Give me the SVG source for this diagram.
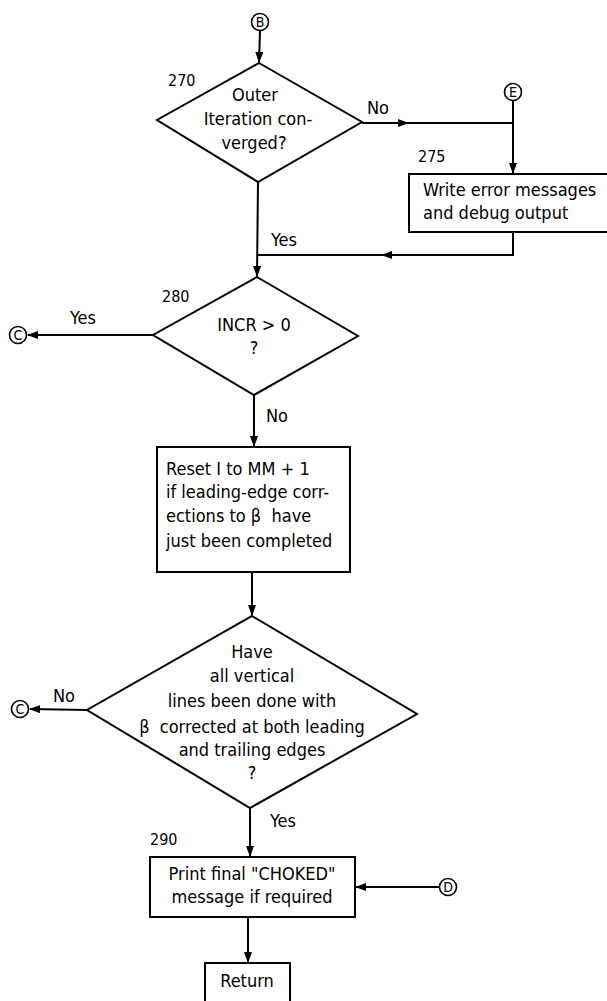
<svg xmlns="http://www.w3.org/2000/svg" width="607" height="1001" viewBox="0 0 607 1001">
<style>
.s{fill:none;stroke:#000;stroke-width:2}
.n{fill:#fff;stroke:#000;stroke-width:2}
.k{fill:#fff;stroke:#000;stroke-width:1.6}
.t{font-family:"DejaVu Sans Condensed","Liberation Sans Narrow","DejaVu Sans",sans-serif;font-stretch:condensed;font-size:18px;fill:#000}
.m{text-anchor:middle}
.l{font-family:"DejaVu Sans Condensed","Liberation Sans Narrow","DejaVu Sans",sans-serif;font-stretch:condensed;font-size:16px;fill:#000}
.c{font-family:"DejaVu Sans Condensed","DejaVu Sans",sans-serif;font-stretch:condensed;font-size:14px;text-anchor:middle;fill:#000}
</style>
<defs>
<marker id="a" markerWidth="11" markerHeight="8" refX="10" refY="4" orient="auto" markerUnits="userSpaceOnUse">
<path d="M0,0 L11,4 L0,8 z" fill="#000"/>
</marker>
</defs>
<rect width="607" height="1001" fill="#fff"/>
<g id="connectors">
<path class="s" d="M260,31 L259,62" marker-end="url(#a)"/>
<path class="s" d="M362,123 L408,123" marker-end="url(#a)"/>
<path class="s" d="M405,123 L513,123"/>
<path class="s" d="M513,101 L513,173" marker-end="url(#a)"/>
<path class="s" d="M513,232 L513,255 L382,255" marker-end="url(#a)"/>
<path class="s" d="M385,255 L258,255"/>
<path class="s" d="M258,182 L257,276" marker-end="url(#a)"/>
<path class="s" d="M153,335 L28,335" marker-end="url(#a)"/>
<path class="s" d="M254,395 L254,446" marker-end="url(#a)"/>
<path class="s" d="M252,572 L252,615" marker-end="url(#a)"/>
<path class="s" d="M87,710 L30,709" marker-end="url(#a)"/>
<path class="s" d="M250,808 L250,856" marker-end="url(#a)"/>
<path class="s" d="M439,887 L356,887" marker-end="url(#a)"/>
<path class="s" d="M248,917 L248,962" marker-end="url(#a)"/>
<text class="t" x="367" y="114">No</text>
<text class="t" x="271" y="246">Yes</text>
<text class="t" x="70" y="324">Yes</text>
<text class="t" x="266" y="422">No</text>
<text class="t" x="53" y="702">No</text>
<text class="t" x="270" y="827">Yes</text>
</g>
<g id="conB">
<circle class="k" cx="260" cy="22" r="8.5"/>
<text class="c" x="260" y="27">B</text>
</g>
<g id="conE">
<circle class="k" cx="513" cy="92" r="8.5"/>
<text class="c" x="513" y="97">E</text>
</g>
<g id="conC1">
<circle class="k" cx="18" cy="335" r="8.5"/>
<text class="c" x="18" y="340">C</text>
</g>
<g id="conC2">
<circle class="k" cx="20" cy="709" r="8.5"/>
<text class="c" x="20" y="714">C</text>
</g>
<g id="conD">
<circle class="k" cx="448" cy="887" r="8.5"/>
<text class="c" x="448" y="892">D</text>
</g>
<g id="n270">
<path class="n" d="M259,63 L362,122 L258,182 L157,120 Z"/>
<text class="l" x="168" y="86">270</text>
<text class="t m" x="255" y="101">Outer</text>
<text class="t m" x="258" y="125">Iteration con-</text>
<text class="t m" x="254" y="149">verged?</text>
</g>
<g id="n275">
<rect class="n" x="409" y="174" width="215" height="58"/>
<text class="l" x="418" y="162">275</text>
<text class="t" x="423" y="196">Write error messages</text>
<text class="t" x="423" y="219">and debug output</text>
</g>
<g id="n280">
<path class="n" d="M257,277 L358,336 L254,395 L153,335 Z"/>
<text class="l" x="162" y="302">280</text>
<text class="t m" x="254" y="331">INCR &gt; 0</text>
<text class="t m" x="254" y="354">?</text>
</g>
<g id="reset">
<rect class="n" x="157" y="447" width="193" height="125"/>
<text class="t" x="166" y="475">Reset I to MM + 1</text>
<text class="t" x="166" y="498">if leading-edge corr-</text>
<text class="t" x="166" y="522">ections to β&#160; have</text>
<text class="t" x="166" y="547">just been completed</text>
</g>
<g id="done">
<path class="n" d="M252,616 L417,714 L250,808 L87,710 Z"/>
<text class="t m" x="252" y="658">Have</text>
<text class="t m" x="252" y="682">all vertical</text>
<text class="t m" x="252" y="707">lines been done with</text>
<text class="t m" x="252" y="733">β&#160; corrected at both leading</text>
<text class="t m" x="252" y="756">and trailing edges</text>
<text class="t m" x="252" y="779">?</text>
</g>
<g id="n290">
<rect class="n" x="150" y="857" width="205" height="60"/>
<text class="l" x="150" y="845">290</text>
<text class="t m" x="252" y="880">Print final "CHOKED"</text>
<text class="t m" x="252" y="903">message if required</text>
</g>
<g id="ret">
<rect class="n" x="205" y="963" width="85" height="45"/>
<text class="t m" x="247" y="987">Return</text>
</g>
</svg>
